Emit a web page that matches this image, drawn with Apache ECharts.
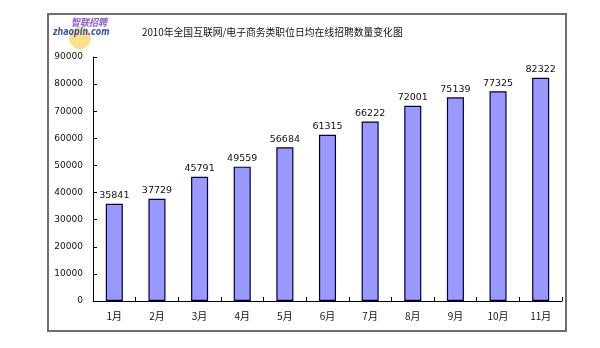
<!DOCTYPE html>
<html><head><meta charset="utf-8">
<script src="https://cdn.jsdelivr.net/npm/echarts@6/dist/echarts.min.js"></script>
<style>html,body{margin:0;padding:0;background:#fff}#c{width:600px;height:348px}</style>
</head><body><div id="c"></div>
<script>
const categories = ['1月','2月','3月','4月','5月','6月','7月','8月','9月','10月','11月'];
const values = [35841, 37729, 45791, 49559, 56684, 61315, 66222, 72001, 75139, 77325, 82322];
const yTicks = [0, 10000, 20000, 30000, 40000, 50000, 60000, 70000, 80000, 90000];
const titleText = '2010年全国互联网/电子商务类职位日均在线招聘数量变化图';

const chart = echarts.init(document.getElementById('c'), null, {renderer:'canvas'});
const font = '"Noto Sans CJK SC", "DejaVu Sans", sans-serif';
chart.setOption({
  backgroundColor: '#fff',
  animation: false,
  title: {
    text: titleText, left: 137, top: 22,
    textStyle: {fontFamily: font, fontSize: 9.8, fontWeight: 'normal', color: '#111'}
  },
  grid: {left: 93, right: 38, top: 57, bottom: 47},
  xAxis: {
    type: 'category', data: categories,
    axisLine: {lineStyle: {color: '#000', width: 1}},
    axisTick: {show: true, inside: true, length: 4, alignWithLabel: false, lineStyle: {color: '#000'}},
    axisLabel: {fontFamily: font, fontSize: 10, color: '#111', margin: 10}
  },
  yAxis: {
    type: 'value', min: yTicks[0], max: yTicks[yTicks.length-1], interval: 10000,
    splitLine: {show: false},
    axisLine: {show: true, lineStyle: {color: '#000', width: 1}},
    axisTick: {show: true, inside: true, length: 4, lineStyle: {color: '#000'}},
    axisLabel: {fontFamily: 'DejaVu Sans', fontSize: 9, color: '#111', margin: 10, formatter: v => String(v)}
  },
  series: [{
    type: 'bar', data: values, barWidth: '40%',
    itemStyle: {color: '#9999ff', borderColor: '#000040', borderWidth: 1.2},
    label: {show: true, position: 'top', distance: 3, fontFamily: 'DejaVu Sans', fontSize: 9.5, color: '#111'}
  }],
  graphic: [
    {type: 'rect', shape: {x: 48, y: 14, width: 518, height: 317}, style: {fill: 'none', stroke: '#6e6e6e', lineWidth: 2}, z: 100},
    {type: 'circle', shape: {cx: 80, cy: 38, r: 11}, style: {fill: '#fbd463', opacity: 0.75}, z: 50},
    {type: 'text', x: 71, y: 17, scaleX: 0.9, style: {text: '智联招聘', fontFamily: font, fontSize: 10, fontStyle: 'italic', fontWeight: 'bold', fill: '#8a5ccc'}, z: 60},
    {type: 'text', x: 53, y: 27, scaleX: 0.72, style: {text: 'zhaopin.com', fontFamily: 'DejaVu Sans', fontSize: 11, fontStyle: 'italic', fontWeight: 'bold', fill: '#3b55a8'}, z: 60}
  ]
});
</script></body></html>
